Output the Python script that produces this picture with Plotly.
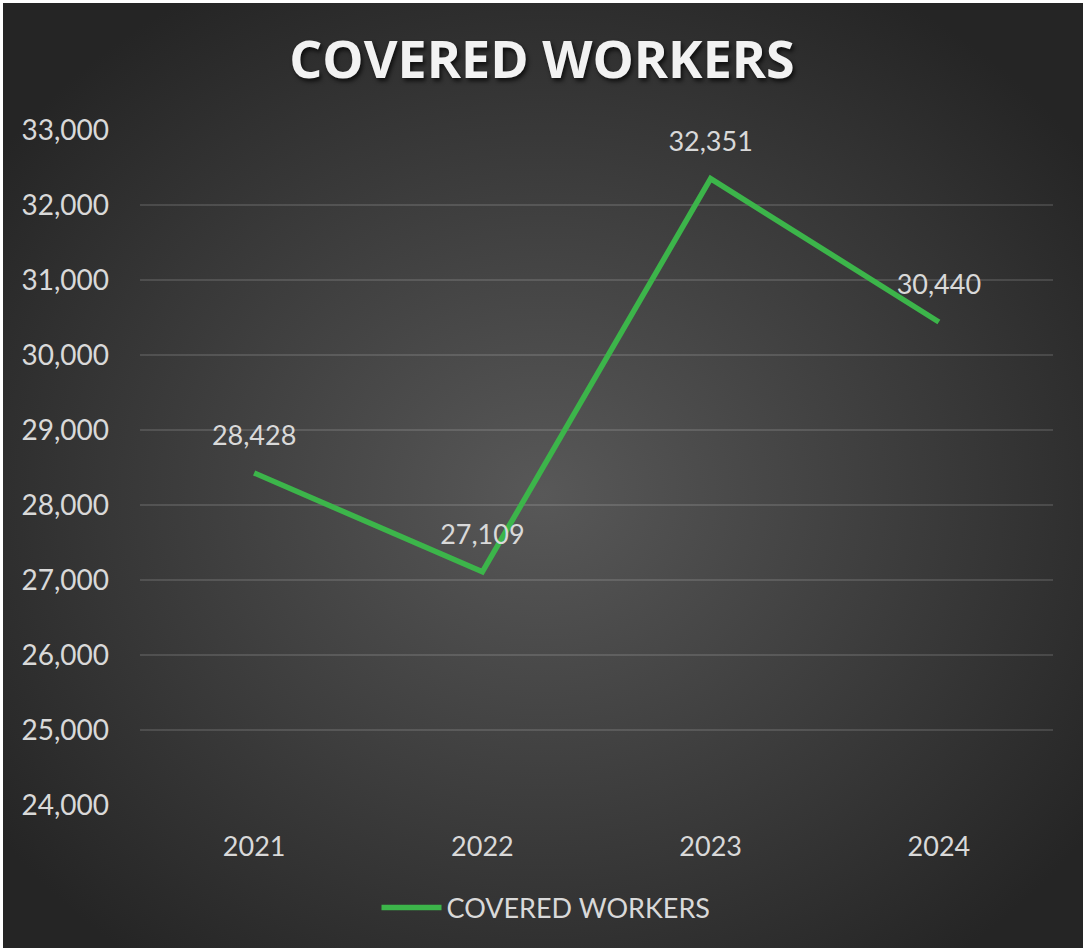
import base64
import plotly.graph_objects as go

years = ["2021", "2022", "2023", "2024"]
covered_workers = [28428, 27109, 32351, 30440]
series_name = "COVERED WORKERS"
chart_title = "COVERED WORKERS"
y_ticks = [24000, 25000, 26000, 27000, 28000, 29000, 30000, 31000, 32000, 33000]

W, H = 1084, 951
L, R, T, B = 140, 31, 130, 146
pw, ph = W - L - R, H - T - B

svg = (
    '<svg xmlns="http://www.w3.org/2000/svg" width="1080" height="945" preserveAspectRatio="none">'
    '<defs><radialGradient id="g" cx="50%" cy="52%" r="62%">'
    '<stop offset="0%" stop-color="#585858"/>'
    '<stop offset="100%" stop-color="#252525"/>'
    '</radialGradient></defs>'
    '<rect x="0" y="0" width="1080" height="945" fill="url(#g)"/></svg>'
)
bg_src = "data:image/svg+xml;base64," + base64.b64encode(svg.encode()).decode()

def px_x(p):
    return (p - L) / pw

def px_y(p):
    return (H - B - p) / ph

fig = go.Figure()
fig.add_trace(go.Scatter(
    x=years, y=covered_workers, mode="lines+markers+text", name=series_name,
    line=dict(color="#3cb54a", width=5.5),
    marker=dict(size=32, color="rgba(0,0,0,0)", line=dict(width=0)),
    text=[f"{v:,}" for v in covered_workers],
    textposition="top center",
    textfont=dict(family="Lato", size=27, color="#d9d9d9"),
    cliponaxis=False,
))

fig.update_layout(
    width=W, height=H,
    margin=dict(l=L, r=R, t=T, b=B, autoexpand=False),
    paper_bgcolor="white",
    plot_bgcolor="rgba(0,0,0,0)",
    images=[dict(
        source=bg_src, xref="paper", yref="paper",
        x=px_x(3), y=px_y(3), sizex=1080 / pw, sizey=945 / ph,
        xanchor="left", yanchor="top", sizing="stretch", layer="below",
    )],
    title=dict(
        text=chart_title, x=0.5, xref="container", xanchor="center",
        y=1 - 60 / H, yanchor="middle",
        font=dict(family="Open Sans", size=52, color="#f2f2f2", weight="bold",
                  shadow="2px 3px 4px rgba(0,0,0,0.7)"),
    ),
    xaxis=dict(
        type="category", range=[-0.5, 3.5], showgrid=False, zeroline=False,
        showline=False, ticks="", ticklabelstandoff=23,
        tickfont=dict(family="Lato", size=27, color="#d9d9d9"),
    ),
    yaxis=dict(
        range=[24000, 33000], tickvals=y_ticks, tickformat=",",
        showgrid=True, gridcolor="rgba(255,255,255,0.13)", gridwidth=1.5,
        zeroline=False, showline=False, ticks="", ticklabelstandoff=30,
        tickfont=dict(family="Lato", size=28, color="#d9d9d9"),
    ),
    legend=dict(
        orientation="h", x=px_x(546), xanchor="center",
        y=px_y(908), yanchor="middle",
        font=dict(family="Lato", size=27, color="#d9d9d9"),
        bgcolor="rgba(0,0,0,0)", itemwidth=60,
    ),
    showlegend=True,
)

fig.write_html("out.html", config={"displayModeBar": False},
               post_script="document.body.style.margin='0px';")
